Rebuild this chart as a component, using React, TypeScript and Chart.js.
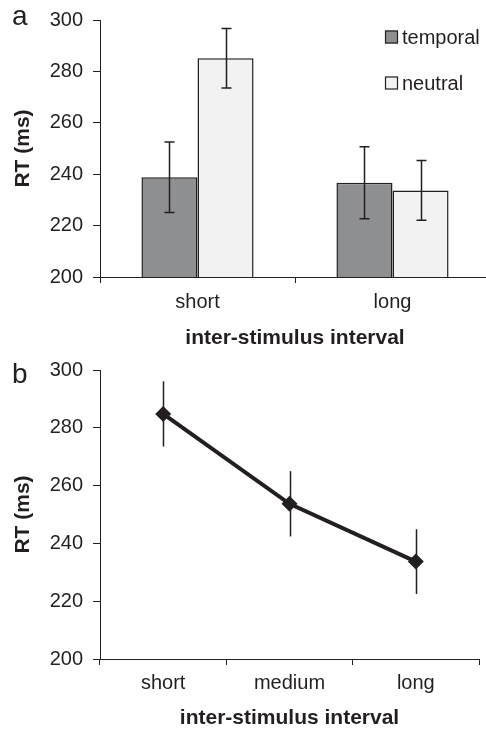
import React, { useEffect, useRef } from "react";
import { Chart, registerables } from "chart.js";

Chart.register(...registerables);

// Panel a data
const categoriesA = ["short", "long"];
const temporalRT = [238.8, 236.7];
const temporalErr = [13.7, 14.0];
const neutralRT = [285.1, 233.7];
const neutralErr = [11.6, 11.6];

// Panel b data
const categoriesB = ["short", "medium", "long"];
const intervalRT = [284.8, 253.7, 233.7];
const intervalErr = [11.3, 11.3, 11.2];

// Axis ticks
const yMin = 200;
const yMax = 300;
const yStep = 20;

const INK = "#231f20";
const FONT = "'Liberation Sans', Arial, Helvetica, sans-serif";

const errorBarPlugin = {
  id: "errorBars",
  drawErr(chart: any, opts: any) {
    const ctx = chart.ctx;
    const yScale = chart.scales.y;
    ctx.save();
    ctx.strokeStyle = INK;
    ctx.lineWidth = opts.lineWidth ?? 1.5;
    chart.data.datasets.forEach((ds: any, i: number) => {
      if (!ds.errors) return;
      const meta = chart.getDatasetMeta(i);
      meta.data.forEach((el: any, j: number) => {
        const v = ds.data[j];
        const e = ds.errors[j];
        const x = Math.round(el.x) + 0.5;
        const yT = yScale.getPixelForValue(v + e);
        const yB = yScale.getPixelForValue(v - e);
        ctx.beginPath();
        ctx.moveTo(x, yT);
        ctx.lineTo(x, yB);
        if (opts.cap) {
          ctx.moveTo(x - opts.cap, yT);
          ctx.lineTo(x + opts.cap, yT);
          ctx.moveTo(x - opts.cap, yB);
          ctx.lineTo(x + opts.cap, yB);
        }
        ctx.stroke();
      });
    });
    ctx.restore();
  },
  beforeDatasetsDraw(chart: any, _a: any, opts: any) {
    if (opts.behind) (errorBarPlugin as any).drawErr(chart, opts);
  },
  afterDatasetsDraw(chart: any, _a: any, opts: any) {
    if (!opts.behind) (errorBarPlugin as any).drawErr(chart, opts);
  },
};

const panelLabelPlugin = {
  id: "panelLabel",
  afterDraw(chart: any, _a: any, opts: any) {
    const ctx = chart.ctx;
    ctx.save();
    ctx.fillStyle = INK;
    ctx.font = `28px ${FONT}`;
    ctx.textBaseline = "alphabetic";
    ctx.textAlign = "left";
    ctx.fillText(opts.text, opts.x, opts.y);
    ctx.restore();
  },
};

const boxLegendPlugin = {
  id: "boxLegend",
  afterDraw(chart: any, _a: any, opts: any) {
    if (!opts.show) return;
    const ctx = chart.ctx;
    ctx.save();
    ctx.font = `20px ${FONT}`;
    ctx.textBaseline = "middle";
    ctx.textAlign = "left";
    chart.data.datasets.forEach((ds: any, i: number) => {
      const cy = opts.y + i * opts.gap;
      const s = opts.box;
      ctx.fillStyle = ds.backgroundColor;
      ctx.fillRect(opts.x, cy - s / 2, s, s);
      ctx.strokeStyle = INK;
      ctx.lineWidth = 1.2;
      ctx.strokeRect(opts.x + 0.5, cy - s / 2 + 0.5, s - 1, s - 1);
      ctx.fillStyle = INK;
      ctx.fillText(ds.label, opts.x + s + 4, cy + 1);
    });
    ctx.restore();
  },
};

function yAxis(titlePad: number) {
  return {
    type: "linear" as const,
    min: yMin,
    max: yMax,
    afterFit: (s: any) => {
      s.width = 100;
      s.paddingTop = 0;
      s.paddingBottom = 0;
    },
    ticks: {
      stepSize: yStep,
      color: INK,
      padding: 10,
      font: { family: FONT, size: 20 },
    },
    grid: {
      display: true,
      drawOnChartArea: false,
      drawTicks: true,
      tickLength: 7,
      color: INK,
      lineWidth: 1,
    },
    border: { display: true, color: INK, width: 1 },
    title: {
      display: true,
      text: "RT (ms)",
      color: INK,
      font: { family: FONT, size: 21, weight: "bold" as const },
      padding: { top: titlePad, bottom: 0 },
    },
  };
}

function xAxis(height: number, tickPad: number, titlePadBottom: number) {
  return {
    type: "category" as const,
    offset: true,
    afterFit: (s: any) => {
      s.height = height;
      s.paddingLeft = 0;
      s.paddingRight = 0;
    },
    ticks: {
      color: INK,
      padding: tickPad,
      font: { family: FONT, size: 20 },
    },
    grid: {
      display: true,
      offset: true,
      drawOnChartArea: false,
      drawTicks: true,
      tickLength: 6,
      color: INK,
      lineWidth: 1,
    },
    border: { display: true, color: INK, width: 1 },
    title: {
      display: true,
      text: "inter-stimulus interval",
      color: INK,
      font: { family: FONT, size: 21, weight: "bold" as const },
      padding: { top: 0, bottom: titlePadBottom },
    },
  };
}

function PanelA() {
  const ref = useRef<HTMLCanvasElement | null>(null);
  useEffect(() => {
    if (!ref.current) return;
    const chart = new Chart(ref.current, {
      type: "bar",
      data: {
        labels: categoriesA,
        datasets: [
          {
            label: "temporal",
            data: temporalRT,
            errors: temporalErr,
            backgroundColor: "#8e8f91",
            borderColor: INK,
            borderWidth: 1.5,
            borderSkipped: false,
          } as any,
          {
            label: "neutral",
            data: neutralRT,
            errors: neutralErr,
            backgroundColor: "#f2f2f2",
            borderColor: INK,
            borderWidth: 1.5,
            borderSkipped: false,
          } as any,
        ],
      },
      options: {
        responsive: false,
        animation: false,
        layout: { autoPadding: false, padding: { left: 0, top: 20, right: 2, bottom: 0 } },
        datasets: { bar: { categoryPercentage: 0.575, barPercentage: 1 } },
        scales: {
          x: xAxis(83, 7, 9),
          y: yAxis(11),
        },
        plugins: {
          legend: { display: false },
          tooltip: { enabled: false },
          errorBars: { cap: 5, lineWidth: 1.5, behind: false },
          panelLabel: { text: "a", x: 12, y: 25 },
          boxLegend: { show: true, x: 385, y: 37, gap: 46, box: 13 },
        } as any,
      } as any,
      plugins: [errorBarPlugin, panelLabelPlugin, boxLegendPlugin],
    });
    return () => chart.destroy();
  }, []);
  return (
    <canvas
      ref={ref}
      width={492}
      height={360}
      style={{ display: "block", width: 492, height: 360 }}
    />
  );
}

function PanelB() {
  const ref = useRef<HTMLCanvasElement | null>(null);
  useEffect(() => {
    if (!ref.current) return;
    const chart = new Chart(ref.current, {
      type: "line",
      data: {
        labels: categoriesB,
        datasets: [
          {
            label: "RT",
            data: intervalRT,
            errors: intervalErr,
            borderColor: INK,
            backgroundColor: INK,
            borderWidth: 4,
            pointStyle: "rectRot",
            pointRadius: 8,
            pointHoverRadius: 8,
            pointBackgroundColor: INK,
            pointBorderColor: INK,
            pointBorderWidth: 0,
            tension: 0,
            fill: false,
            clip: false,
          } as any,
        ],
      },
      options: {
        responsive: false,
        animation: false,
        layout: { autoPadding: false, padding: { left: 0, top: 10, right: 7, bottom: 0 } },
        scales: {
          x: xAxis(70, 6, -2),
          y: yAxis(11),
        },
        plugins: {
          legend: { display: false },
          tooltip: { enabled: false },
          errorBars: { cap: 0, lineWidth: 1.5, behind: true },
          panelLabel: { text: "b", x: 12, y: 23 },
          boxLegend: { show: false },
        } as any,
      } as any,
      plugins: [errorBarPlugin, panelLabelPlugin, boxLegendPlugin],
    });
    return () => chart.destroy();
  }, []);
  return (
    <canvas
      ref={ref}
      width={486}
      height={369}
      style={{ display: "block", width: 486, height: 369 }}
    />
  );
}

export default function App() {
  return (
    <div
      style={{
        position: "fixed",
        left: 0,
        top: 0,
        width: 486,
        height: 729,
        overflow: "hidden",
        background: "#ffffff",
      }}
    >
      <PanelA />
      <PanelB />
    </div>
  );
}
